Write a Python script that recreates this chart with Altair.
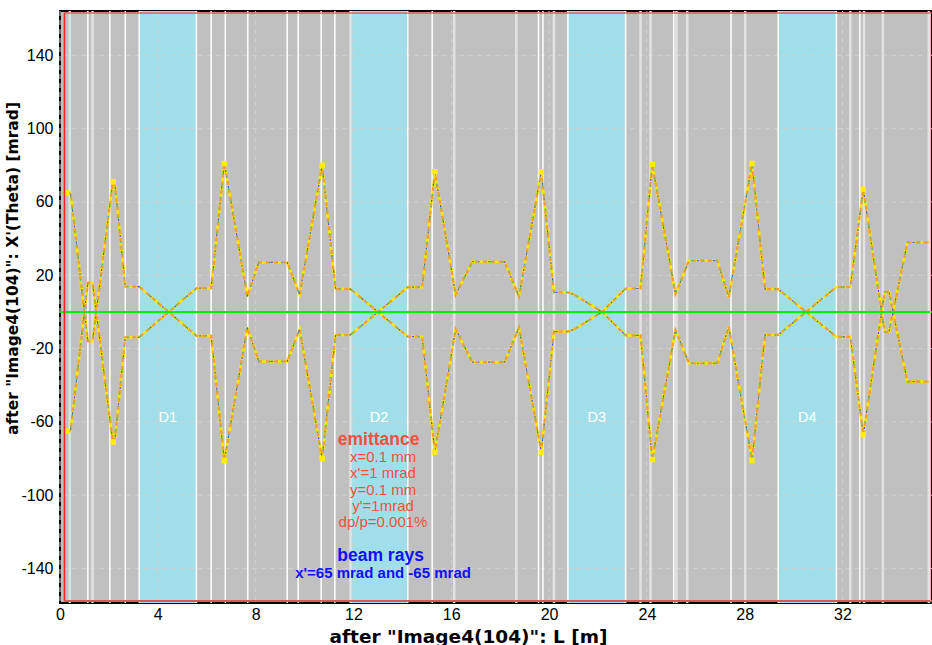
import altair as alt
import pandas as pd

# ---------------- data ----------------
# element boundaries along the beam line [m]
white_lines = [1.14, 2.04, 2.67, 3.24, 5.58, 6.18, 6.76, 7.68, 9.29, 9.74, 10.68,
               11.24, 14.22, 15.22, 19.57, 19.75, 20.77, 23.13, 25.10, 27.44,
               29.37, 31.75, 32.71]
light_lines = [0.40, 1.33, 11.88, 16.12, 18.66, 20.20, 23.74, 24.15, 25.21, 25.65,
               28.02, 32.32, 32.88, 33.65, 35.53]

# dipoles
dip_start = [3.24, 11.88, 20.77, 29.37]
dip_end = [5.58, 14.22, 23.13, 31.75]
dip_names = ["D1", "D2", "D3", "D4"]

# beam ray starting with x' = +65 mrad
ray_x = [0.10, 0.43, 1.14, 1.33, 2.16, 2.25, 2.67, 3.24, 5.58, 6.18, 6.72, 7.66,
         8.13, 9.29, 9.80, 10.72, 11.27, 11.88, 14.22, 14.81, 15.33, 16.18,
         16.86, 18.18, 18.77, 19.68, 20.20, 20.77, 21.01, 22.17, 23.13, 23.74,
         24.22, 25.17, 25.72, 26.88, 27.35, 28.30, 28.83, 29.37, 31.75, 32.32,
         32.85, 33.72, 33.90, 34.65, 35.53]
ray_a = [65, 65, -16, -16, 71, 69, 13.8, 13.8, -13, -13, -81, -8.5,
         -27, -27, -9.5, -80, -12.5, -12.5, 13.5, 13.5, 76.5, 9.3,
         27.4, 27.4, 8.4, 76.5, 10.7, 10.7, 9.6, 0, -12.8, -12.8,
         -80.5, -9.8, -28, -28, -8, -81, -12.5, -12.5, 13.6, 13.6,
         67, -11, -11, 38, 38]
# beam ray starting with x' = -65 mrad
ray_b = [-65, -65, 16, 16, -71, -69, -13.8, -13.8, 13, 13, 81, 8.5,
         27, 27, 9.5, 80, 12.5, 12.5, -13.5, -13.5, -76.5, -9.3,
         -27.4, -27.4, -8.4, -76.5, -10.7, -10.7, -9.6, 0, 12.8, 12.8,
         80.5, 9.8, 28, 28, 8, 81, 12.5, 12.5, -13.6, -13.6,
         -67, 11, 11, -38, -38]

# bright clusters at the turning points
peak_x = [0.27, 2.18, 6.72, 10.72, 15.33, 19.68, 24.22, 28.30, 32.85]
peak_a = [65, 71, -81, -80, 76.5, 76.5, -80.5, -81, 67]
peak_b = [-65, -71, 81, 80, -76.5, -76.5, 80.5, 81, -67]

x_ticks = [0, 4, 8, 12, 16, 20, 24, 28, 32]
y_ticks = [-140, -100, -60, -20, 20, 60, 100, 140]

emit_lines = ["x=0.1 mm", "x'=1 mrad", "y=0.1 mm", "y'=1mrad", "dp/p=0.001%"]

# ---------------- layout constants ----------------
X_MIN, X_MAX = 0.0, 35.66
Y_MIN, Y_MAX = -158.8, 164.2
W, H = 872, 592

xs = alt.Scale(domain=[X_MIN, X_MAX], nice=False, zero=False)
ys = alt.Scale(domain=[Y_MIN, Y_MAX], nice=False, zero=False)

XA = alt.Axis(values=x_ticks, grid=False, ticks=False, domain=False,
              labelFont="Liberation Sans", labelFontSize=16, labelColor="black",
              labelPadding=3, labelFlush=False, labelOverlap=False,
              labelExpr="'' + datum.value",
              title='after "Image4(104)": L [m]', titleFont="DejaVu Sans",
              titleFontSize=18.5, titleFontWeight="bold", titleColor="black",
              titleX=408, titleY=33, titleBaseline="middle", titleAlign="center")
YA = alt.Axis(values=y_ticks, grid=False, ticks=False, domain=False,
              labelFont="Liberation Sans", labelFontSize=16, labelColor="black",
              labelPadding=7, labelOverlap=False,
              labelExpr="'' + datum.value",
              title="after \"Image4(104)\": X'(Theta) [mrad]", titleFont="DejaVu Sans",
              titleFontSize=15.5, titleFontWeight="bold", titleColor="black",
              titleX=-48, titleY=257, titleBaseline="middle", titleAlign="center",
              titleAngle=270)


def X(field):
    return alt.X(field, scale=xs, axis=XA)


def Y(field):
    return alt.Y(field, scale=ys, axis=YA)


def XD(v):
    return alt.datum(v, scale=xs, axis=XA)


def YD(v):
    return alt.datum(v, scale=ys, axis=YA)


# ---------------- layers ----------------
bands_df = pd.DataFrame({"s": dip_start, "e": dip_end, "name": dip_names})
bands = alt.Chart(bands_df).mark_rect(color="#a0dfea").encode(
    x=X("s:Q"), x2="e:Q", y=YD(Y_MIN), y2=alt.datum(Y_MAX))

vgrid = alt.Chart(pd.DataFrame({"x": x_ticks})).mark_rule(
    color="#d0d0d0", strokeDash=[5, 4], strokeWidth=1).encode(x=X("x:Q"))
hgrid = alt.Chart(pd.DataFrame({"y": y_ticks})).mark_rule(
    color="#d0d0d0", strokeDash=[5, 4], strokeWidth=1).encode(y=Y("y:Q"))

light = alt.Chart(pd.DataFrame({"x": light_lines})).mark_rule(
    color="#e2e2e2", strokeWidth=2.5).encode(x=X("x:Q"))
white = alt.Chart(pd.DataFrame({"x": white_lines})).mark_rule(
    color="#ffffff", strokeWidth=1.5).encode(x=X("x:Q"))

red_top = alt.Chart().mark_rule(color="#ff2020", strokeWidth=1).encode(
    x=XD(0.18), x2=alt.datum(X_MAX), y=YD(163.1))
red_left = alt.Chart().mark_rule(color="#ff2020", strokeWidth=1.5).encode(
    x=XD(0.18), y=YD(-157.7), y2=alt.datum(163.1))
red_bottom = alt.Chart().mark_rule(color="#e05555", strokeWidth=2).encode(
    x=XD(0.18), x2=alt.datum(X_MAX), y=YD(-157.7))
red_right = alt.Chart().mark_rule(color="#ffb4b4", strokeWidth=1).encode(
    x=XD(35.6), y=YD(-157.7), y2=alt.datum(163.1))

n = len(ray_x)
rays_df = pd.DataFrame({
    "x": ray_x + ray_x,
    "y": ray_a + ray_b,
    "ray": ["a"] * n + ["b"] * n,
    "i": list(range(n)) + list(range(n)),
})


def ray_layer(color, width, dash, offset):
    return alt.Chart(rays_df).mark_line(
        color=color, strokeWidth=width, strokeDash=dash, strokeDashOffset=offset,
        strokeCap="butt").encode(
        x=X("x:Q"), y=Y("y:Q"), detail="ray:N", order="i:Q")


ray_yellow = ray_layer("#ffe600", 2.6, [4, 4], 0)
ray_orange = ray_layer("#f5a01e", 2.2, [4, 4], 4)
ray_green = ray_layer("#4fbf7a", 1.4, [2, 10], 1)
ray_blue = ray_layer("#4a55c8", 1.2, [2, 14], 7)

peaks_df = pd.DataFrame({"x": peak_x + peak_x, "y": peak_a + peak_b})
peaks = alt.Chart(peaks_df).mark_square(color="#ffee00", size=30, opacity=1).encode(
    x=X("x:Q"), y=Y("y:Q"))

zero = alt.Chart().mark_rule(color="#00ee00", strokeWidth=2).encode(y=YD(0))

dlabels = alt.Chart(bands_df).transform_calculate(
    mid="(datum.s + datum.e) / 2").mark_text(
    color="white", font="Liberation Sans", fontSize=14.5, baseline="middle",
    align="center").encode(x=X("mid:Q"), y=YD(-57.8), text="name:N")

emit_title = alt.Chart().mark_text(
    text="emittance", color="#f5503c", font="Liberation Sans", fontSize=17.5,
    fontWeight="bold", align="center", baseline="middle").encode(
    x=XD(13.03), y=YD(-69.8))

emit_df = pd.DataFrame({"t": emit_lines, "k": list(range(len(emit_lines)))})
emit_text = alt.Chart(emit_df).transform_calculate(
    yy="-79.3 - datum.k * 8.8").mark_text(
    color="#f5503c", font="Liberation Sans", fontSize=15, align="center",
    baseline="middle").encode(x=XD(13.21), y=Y("yy:Q"), text="t:N")

beam_title = alt.Chart().mark_text(
    text="beam rays", color="#1010ff", font="Liberation Sans", fontSize=17.5,
    fontWeight="bold", align="center", baseline="middle").encode(
    x=XD(13.11), y=YD(-133.1))
beam_text = alt.Chart().mark_text(
    text="x'=65 mrad and -65 mrad", color="#1010ff", font="Liberation Sans",
    fontSize=15, fontWeight="bold", align="center", baseline="middle").encode(
    x=XD(13.21), y=YD(-142.2))

chart = alt.layer(
    bands, vgrid, hgrid, light, white,
    ray_yellow, ray_orange, ray_green, ray_blue, peaks,
    zero, red_top, red_left, red_bottom, red_right,
    dlabels, emit_title, emit_text, beam_title, beam_text,
).properties(
    width=W, height=H,
    padding={"left": 60, "top": 11, "right": 0, "bottom": 42},
    autosize=alt.AutoSizeParams(type="none"),
    background="white",
).configure_view(stroke="black", strokeWidth=2, fill="#c0c0c0")

chart.save("out.html", embed_options={"renderer": "svg", "actions": False})
